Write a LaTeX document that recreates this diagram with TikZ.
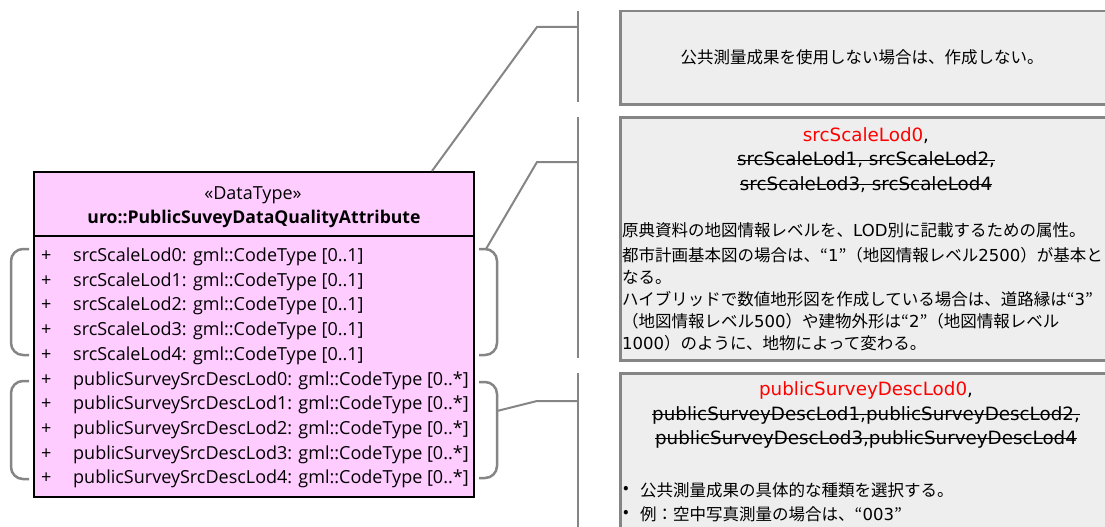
\documentclass[tikz,border=0pt]{standalone}
\usepackage{fontspec}
\setmainfont{Open Sans}
\newfontfamily\jpfont{Noto Sans CJK JP}
\newfontfamily\notelatin{DejaVu Sans}
\usetikzlibrary{positioning}
\definecolor{softpink}{HTML}{FFCCFF}
\definecolor{softgray}{HTML}{EDEEED}
\definecolor{deepgray}{HTML}{858585}
\definecolor{markred}{HTML}{FF0000}
\newsavebox{\strikebox}
\newcommand{\strike}[1]{\sbox{\strikebox}{#1}%
  \rlap{\usebox{\strikebox}}\rule[0.28em]{\wd\strikebox}{1.1pt}}
\newcommand{\lat}[1]{{\notelatin\fontsize{16.5}{22}\selectfont#1}}
\tikzset{
  classbox/.style={draw=black,line width=2pt,fill=softpink,anchor=north west,
                   inner sep=0pt},
  notebox/.style={draw=deepgray,line width=2.5pt,fill=softgray,anchor=north west,
                  inner sep=0pt},
  attr/.style={font=\fontsize{18}{20}\selectfont,anchor=west,inner sep=0pt,
               text height=13pt,text depth=4pt},
  note/.style={font=\jpfont\fontsize{16.5}{24.5}\selectfont,inner sep=0pt},
  notehead/.style={font=\notelatin\fontsize{18.3}{24.5}\selectfont,align=center,
                   inner sep=0pt},
  leader/.style={draw=deepgray,line width=2pt},
  brace/.style={draw=deepgray,line width=2.5pt,rounded corners=12pt}
}

\begin{document}
\begin{tikzpicture}[x=1pt,y=-1pt]
  \useasboundingbox (0,0) rectangle (1105,527);
  \clip (0,0) rectangle (1105,527);

  % class
  \node[classbox,minimum width=440pt,minimum height=325pt] (cls) at (33,171) {};
  \draw[line width=2pt] (33,236) -- (473,236);
  \node[attr,anchor=center] (stereo) at (253,195) {«DataType»};
  \node[attr,anchor=center,font=\bfseries\fontsize{17.6}{20}\selectfont]
    (clsname) at (254,219) {uro::PublicSuveyDataQualityAttribute};
  \foreach \i in {0,...,4}{
    \node[attr] (plusa\i) at (41,257+24.7*\i) {+};
    \node[attr] (scale\i) at (73,257+24.7*\i) {srcScaleLod\i: gml::CodeType [0..1]};
    \node[attr] (plusb\i) at (41,380.5+24.7*\i) {+};
    \node[attr] (desc\i) at (73,380.5+24.7*\i)
      {publicSurveySrcDescLod\i: gml::CodeType [0..*]};
  }

  % brackets
  \draw[brace] (29,249) -- (11,249) -- (11,355) -- (29,355);
  \draw[brace] (29,381) -- (11,381) -- (11,479) -- (29,479);
  \draw[brace] (479,249) -- (497,249) -- (497,355) -- (479,355);
  \draw[brace] (479,382) -- (497,382) -- (497,478) -- (479,478);

  % notes
  \node[notebox,minimum width=492pt,minimum height=93pt] (note1) at (619,10) {};
  \node[notebox,minimum width=492pt,minimum height=243pt] (note2) at (619,116) {};
  \node[notebox,minimum width=492pt,minimum height=170pt] (note3) at (619,372) {};

  \node[note] (note1text) at (862,57) {公共測量成果を使用しない場合は、作成しない。};
  \node[notehead] (note2head) at (866,160)
    {\textcolor{markred}{srcScaleLod0},\\
     \strike{srcScaleLod1, srcScaleLod2,}\\
     \strike{srcScaleLod3, srcScaleLod4}};
  \node[note,align=left,anchor=north west,font=\jpfont\fontsize{16.5}{22}\selectfont]
    (note2body) at (622,222)
    {原典資料の地図情報レベルを、\lat{LOD}別に記載するための属性。\\[3pt]
     都市計画基本図の場合は、“\lat{1}”（地図情報レベル\lat{2500}）が基本と\\
     なる。\\
     ハイブリッドで数値地形図を作成している場合は、道路縁は“\lat{3}”\\
     （地図情報レベル\lat{500}）や建物外形は“\lat{2}”（地図情報レベル\\
     \lat{1000}）のように、地物によって変わる。};
  \node[notehead] (note3head) at (866,415)
    {\textcolor{markred}{publicSurveyDescLod0},\\
     \strike{publicSurveyDescLod1,publicSurveyDescLod2,}\\
     \strike{publicSurveyDescLod3,publicSurveyDescLod4}};
  \node[note,anchor=west] (dot1) at (623,490) {•};
  \node[note,anchor=west] (item1) at (640,490) {公共測量成果の具体的な種類を選択する。};
  \node[note,anchor=west] (dot2) at (623,514) {•};
  \node[note,anchor=west] (item2) at (640,514) {例：空中写真測量の場合は、“\lat{003}”};

  % leaders
  \coordinate (clstop) at (432,171);
  \coordinate (scaletip) at (486,249);
  \coordinate (desctip) at (497,411);
  \coordinate (bend1) at (537,27);
  \coordinate (bend2) at (537,162);
  \coordinate (bend3) at (537,401);
  \coordinate (bar1) at (578,27);
  \coordinate (bar2) at (578,162);
  \coordinate (bar3) at (578,401);
  \draw[leader] (578,11) -- (578,102);
  \draw[leader] (578,117) -- (578,358);
  \draw[leader] (578,373) -- (578,527);
  \draw[leader] (clstop) -- (bend1) -- (bar1);
  \draw[leader] (scaletip) -- (bend2) -- (bar2);
  \draw[leader] (desctip) -- (bend3) -- (bar3);
\end{tikzpicture}
\end{document}
